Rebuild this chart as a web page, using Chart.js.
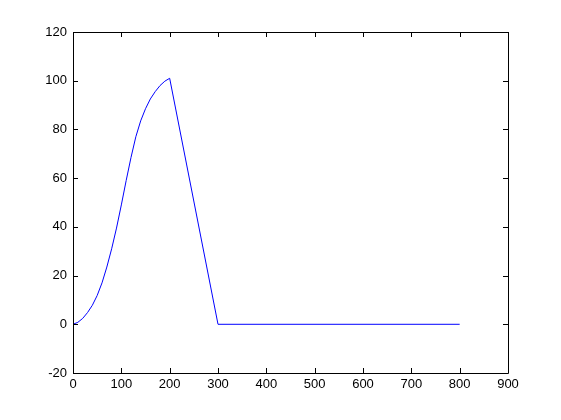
<!DOCTYPE html>
<html>
<head>
<meta charset="utf-8">
<script src="https://cdn.jsdelivr.net/npm/chart.js@4/dist/chart.umd.min.js"></script>
<style>
  html, body { margin: 0; padding: 0; background: #fff; }
  #wrap { width: 561px; height: 420px; }
</style>
</head>
<body>
<div id="wrap"><canvas id="myChart" width="561" height="420"></canvas></div>
<script>
// values
const xValues = [0, 10, 20, 30, 40, 50, 60, 70, 80, 90, 100, 110, 120, 130, 140, 150, 160, 170, 180, 190, 200, 300, 800];
const yValues = [0, 0.8, 2.4, 4.8, 7.8, 11.8, 17, 23.5, 31, 39.5, 49, 59, 68.5, 77, 83.5, 88.5, 92.5, 95.5, 98, 99.8, 101, 0, 0];
const xTicks = [0, 100, 200, 300, 400, 500, 600, 700, 800, 900];
const yTicks = [-20, 0, 20, 40, 60, 80, 100, 120];

// MATLAB style box with inward ticks on all four sides
const boxTicks = {
    id: 'boxTicks',
    afterDraw(chart) {
        const ctx = chart.ctx;
        const a = chart.chartArea;
        const xs = chart.scales.x, ys = chart.scales.y;
        const len = 5;
        ctx.save();
        ctx.strokeStyle = '#000';
        ctx.lineWidth = 1;
        ctx.beginPath();
        ctx.rect(Math.round(a.left) + 0.5, Math.round(a.top) + 0.5,
                 Math.round(a.right - a.left), Math.round(a.bottom - a.top));
        xTicks.forEach(v => {
            const px = Math.round(xs.getPixelForValue(v)) + 0.5;
            ctx.moveTo(px, a.bottom);
            ctx.lineTo(px, a.bottom - len);
            ctx.moveTo(px, a.top);
            ctx.lineTo(px, a.top + len);
        });
        yTicks.forEach(v => {
            const py = Math.round(ys.getPixelForValue(v)) + 0.5;
            ctx.moveTo(a.left, py);
            ctx.lineTo(a.left + len, py);
            ctx.moveTo(a.right, py);
            ctx.lineTo(a.right - len, py);
        });
        ctx.stroke();
        ctx.restore();
    }
};

const ctx = document.getElementById('myChart').getContext('2d');
new Chart(ctx, {
    type: 'line',
    data: {
        datasets: [{
            data: xValues.map((x, i) => ({ x: x, y: yValues[i] })),
            borderColor: '#0000ff',
            borderWidth: 1,
            pointRadius: 0,
            tension: 0,
            fill: false
        }]
    },
    options: {
        responsive: false,
        animation: false,
        layout: { padding: { top: 32, right: 53, left: 0, bottom: 0 } },
        plugins: {
            legend: { display: false },
            tooltip: { enabled: false }
        },
        scales: {
            x: {
                type: 'linear',
                min: 0,
                max: 900,
                afterFit: s => { s.height = 47; },
                afterBuildTicks: s => { s.ticks = xTicks.map(v => ({ value: v })); },
                grid: { display: false, drawTicks: false },
                border: { display: false },
                ticks: {
                    color: '#000',
                    padding: 4,
                    maxRotation: 0,
                    font: { family: 'Liberation Sans, Arial', size: 13 }
                }
            },
            y: {
                type: 'linear',
                min: -20,
                max: 120,
                afterFit: s => { s.width = 73; },
                afterBuildTicks: s => { s.ticks = yTicks.map(v => ({ value: v })); },
                grid: { display: false, drawTicks: false },
                border: { display: false },
                ticks: {
                    color: '#000',
                    padding: 6,
                    font: { family: 'Liberation Sans, Arial', size: 13 }
                }
            }
        }
    },
    plugins: [boxTicks]
});
</script>
</body>
</html>
